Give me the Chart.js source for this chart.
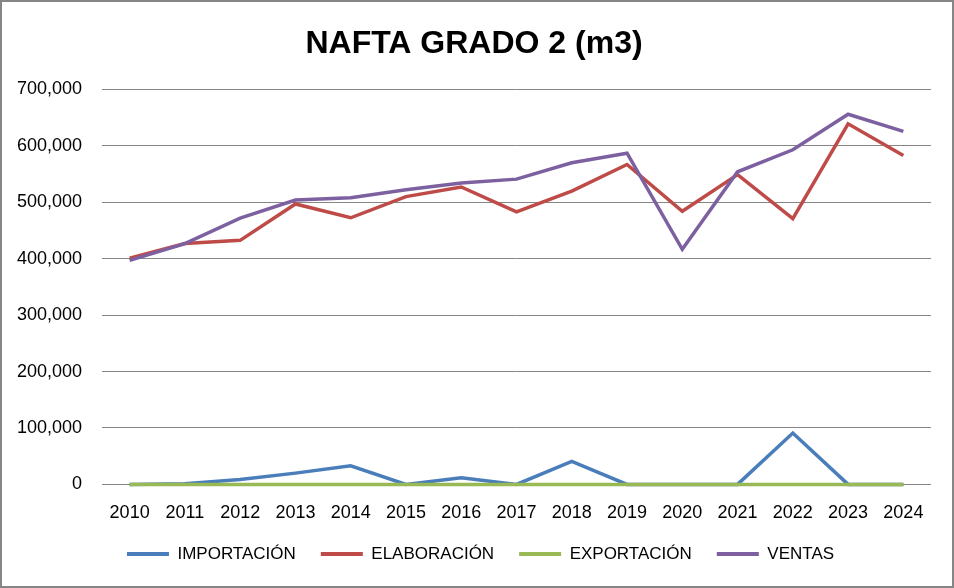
<!DOCTYPE html>
<html>
<head>
<meta charset="utf-8">
<script src="https://cdn.jsdelivr.net/npm/chart.js@4"></script>
<style>
  body { margin: 0; background: #fff; }
  #wrap { width: 950px; height: 584px; border: 2px solid #868686; position: relative; }
</style>
</head>
<body>
<div id="wrap"><canvas id="chart"></canvas></div>
<script>
// values (m3)
const years = ['2010','2011','2012','2013','2014','2015','2016','2017','2018','2019','2020','2021','2022','2023','2024'];
const importacion = [0, 1000, 8700, 20000, 33000, 0, 11800, 0, 40600, 0, 0, 0, 91000, 0, 0];
const elaboracion = [401000, 427000, 432500, 497000, 472500, 510000, 527000, 483000, 519700, 567000, 484000, 549000, 471000, 639000, 583000];
const exportacion = [0, 0, 0, 0, 0, 0, 0, 0, 0, 0, 0, 0, 0, 0, 0];
const ventas = [397000, 426600, 472000, 504000, 508000, 522000, 534000, 541000, 570000, 587000, 416600, 554000, 593000, 656000, 625700];

const seriesNames = ['IMPORTACIÓN', 'ELABORACIÓN', 'EXPORTACIÓN', 'VENTAS'];
const seriesColors = ['#4A7EBB', '#BE4B48', '#98B954', '#7D60A0'];
const seriesData = [importacion, elaboracion, exportacion, ventas];

const fontName = '"Liberation Sans", Arial, sans-serif';

// nudge title and legend, the original centres them on the whole frame
const nudgeBoxes = {
    id: 'nudgeBoxes',
    afterLayout(c) {
        c.titleBlock.left += 7.5; c.titleBlock.right += 7.5;
        c.legend.left += 14; c.legend.right += 14;
        c.legend.top -= 13.5; c.legend.bottom -= 13.5;
    }
};

const ctx = document.getElementById('chart');
const chart = new Chart(ctx, {
    type: 'line',
    data: {
        labels: years,
        datasets: seriesData.map((d, i) => ({
            label: seriesNames[i],
            data: d,
            borderColor: seriesColors[i],
            backgroundColor: seriesColors[i],
            borderWidth: 3.5,
            pointRadius: 0,
            tension: 0,
            clip: false,
            order: 4 - i   // later series drawn on top, like the original
        }))
    },
    options: {
        responsive: true,
        maintainAspectRatio: false,
        animation: false,
        layout: { padding: { left: 0, right: 21, top: 0, bottom: 0 } },
        plugins: {
            title: {
                display: true,
                text: 'NAFTA GRADO 2 (m3)',
                color: '#000',
                font: { family: fontName, size: 32, weight: 'bold' },
                padding: { top: 23, bottom: 26 }
            },
            legend: {
                position: 'bottom',
                maxHeight: 52,
                labels: {
                    color: '#000',
                    font: { family: fontName, size: 17 },
                    boxWidth: 42,
                    boxHeight: 4,
                    padding: 25,
                    sort: (a, b) => a.datasetIndex - b.datasetIndex,
                    generateLabels: (c) => Chart.defaults.plugins.legend.labels.generateLabels(c)
                        .map(l => Object.assign(l, { lineWidth: 0 }))
                }
            },
            tooltip: { enabled: false }
        },
        scales: {
            x: {
                offset: true,
                grid: { display: false },
                border: { display: false },
                ticks: {
                    color: '#000',
                    font: { family: fontName, size: 18 },
                    padding: 10,
                    maxRotation: 0,
                    autoSkip: false
                }
            },
            y: {
                min: 0,
                max: 700000,
                afterFit: (scale) => { scale.width = 100; },
                grid: { color: '#868686', lineWidth: 1, drawTicks: false },
                border: { display: false },
                ticks: {
                    stepSize: 100000,
                    color: '#000',
                    font: { family: fontName, size: 18 },
                    padding: 20,
                    callback: (v) => v.toLocaleString('en-US')
                }
            }
        }
    },
    plugins: [nudgeBoxes]
});
</script>
</body>
</html>
